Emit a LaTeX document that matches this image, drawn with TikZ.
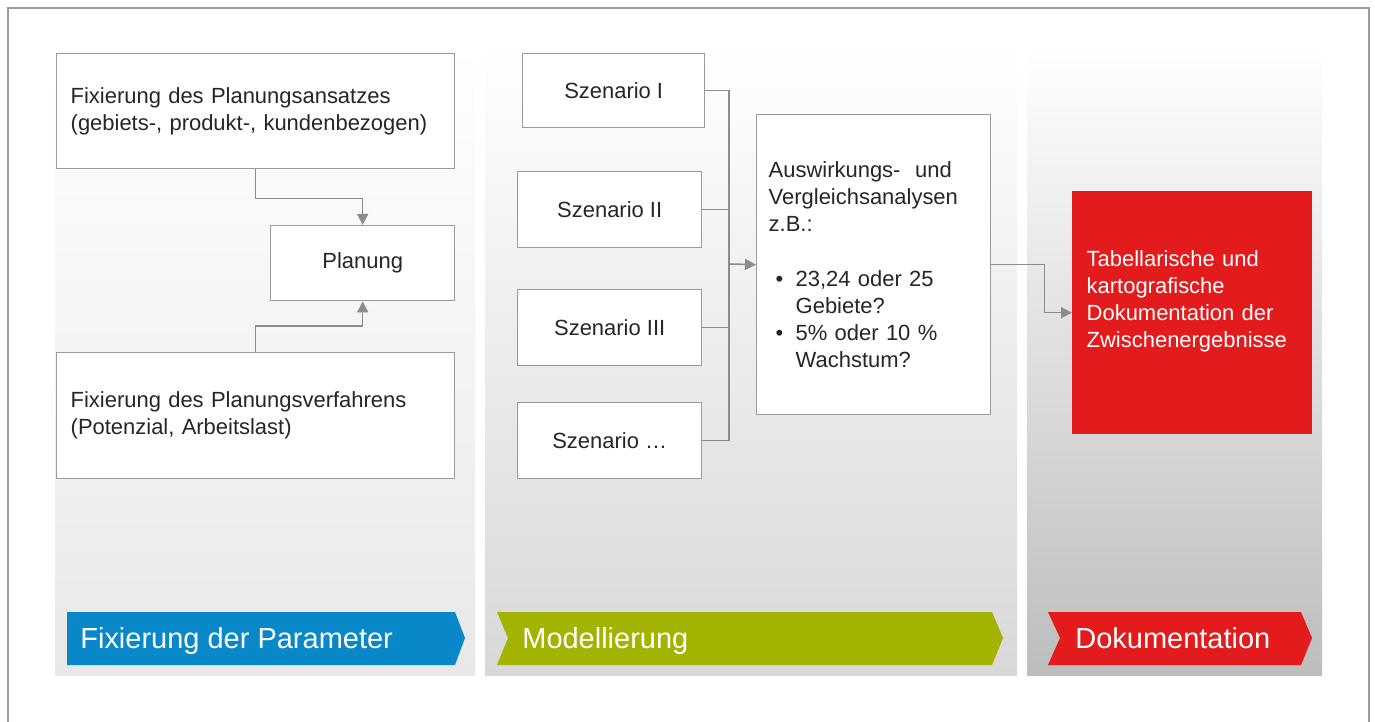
\documentclass[tikz,border=0pt]{standalone}
\usepackage{fontspec}
\setmainfont{Liberation Sans}
\usetikzlibrary{arrows.meta}
\definecolor{boxline}{HTML}{9A9A9A}
\definecolor{conline}{HTML}{8C8C8C}
\definecolor{txtgray}{HTML}{262626}
\definecolor{planblue}{HTML}{0888C9}
\definecolor{planolive}{HTML}{A3B400}
\definecolor{planred}{HTML}{E31B1C}
\definecolor{colA}{HTML}{E8E8E8}
\definecolor{colB}{HTML}{D8D8D8}
\definecolor{colC}{HTML}{BDBDBD}

\begin{document}
\begin{tikzpicture}[x=0.02cm, y=-0.02cm,
	box/.style={draw=boxline, line width=0.8pt, fill=white, anchor=north west, text=txtgray, font=\fontsize{12.5}{15.3}\selectfont},
	textbox/.style={box, align=left, inner xsep=0.28cm, text width=#1},
	conn/.style={draw=conline, line width=0.9pt},
	arr/.style={conn, -{Triangle[length=0.22cm, width=0.22cm]}},
	banner/.style={anchor=base west, text=white, font=\fontsize{16.5}{20}\selectfont, inner sep=0pt}]
	\useasboundingbox (0,0) rectangle (1375,722);
	\draw[boxline, line width=0.8pt] (8,8) rectangle (1369,740);
	\shade[top color=white, bottom color=colA] (55,45) rectangle (475,675);
	\shade[top color=white, bottom color=colB] (485,45) rectangle (1017,675);
	\shade[top color=white, bottom color=colC] (1027,45) rectangle (1322,675);

	\node[textbox=7.4cm, minimum height=2.3cm] (fixa) at (56,53) {Fixierung des Planungsansatzes\\(gebiets-, produkt-, kundenbezogen)};
	\node[box, minimum width=3.68cm, minimum height=1.5cm] (plan) at (270,225) {Planung};
	\node[textbox=7.4cm, minimum height=2.52cm] (fixb) at (56,352) {Fixierung des Planungsverfahrens\\(Potenzial, Arbeitslast)};
	\draw[arr] (fixa.south) -- ++(0,29) -| (plan.north);
	\draw[arr] (fixb.north) -- ++(0,-26) -| (plan.south);

	\node[box, minimum width=3.64cm, minimum height=1.48cm] (sz1) at (522,53) {Szenario I};
	\node[box, minimum width=3.68cm, minimum height=1.52cm] (sz2) at (517,171) {Szenario II};
	\node[box, minimum width=3.68cm, minimum height=1.52cm] (sz3) at (517,289) {Szenario III};
	\node[box, minimum width=3.68cm, minimum height=1.52cm] (sz4) at (517,402) {Szenario …};
	\node[textbox=4.2cm, inner xsep=0.24cm, minimum height=6cm] (ana) at (756,114) {Auswirkungs-\ \ und\\Vergleichsanalysen\\z.B.:\\[0.56cm]\makebox[0.54cm][l]{\hspace{0.14cm}•}23,24 oder 25\\\hspace*{0.54cm}Gebiete?\\\makebox[0.54cm][l]{\hspace{0.14cm}•}5\% oder 10 \%\\\hspace*{0.54cm}Wachstum?};
	\coordinate (join) at (729,264);
	\foreach \s in {sz1,sz2,sz3,sz4}
		\draw[conn] (\s.east) -| (join);
	\draw[arr] (join) -- (ana.west);

	\node[textbox=4.22cm, fill=planred, draw=planred, text=white, minimum height=4.84cm] (doku) at (1072,191) {Tabellarische und\\kartografische\\Dokumentation der\\Zwischenergebnisse\\\mbox{}};
	\draw[arr] (ana.east) -- ++(53,0) |- (doku.west);

	\fill[planblue] (67,612) -- (455,612) -- (465,638) -- (455,665) -- (67,665) -- cycle;
	\fill[planolive] (497,612) -- (992,612) -- (1003,638) -- (992,665) -- (497,665) -- (508,638) -- cycle;
	\fill[planred] (1048,612) -- (1301,612) -- (1312,638) -- (1301,665) -- (1048,665) -- (1060,638) -- cycle;
	\node[banner] (bpar) at (80,648) {Fixierung der Parameter};
	\node[banner] (bmod) at (522,648) {Modellierung};
	\node[banner] (bdok) at (1075,648) {Dokumentation};
\end{tikzpicture}
\end{document}
